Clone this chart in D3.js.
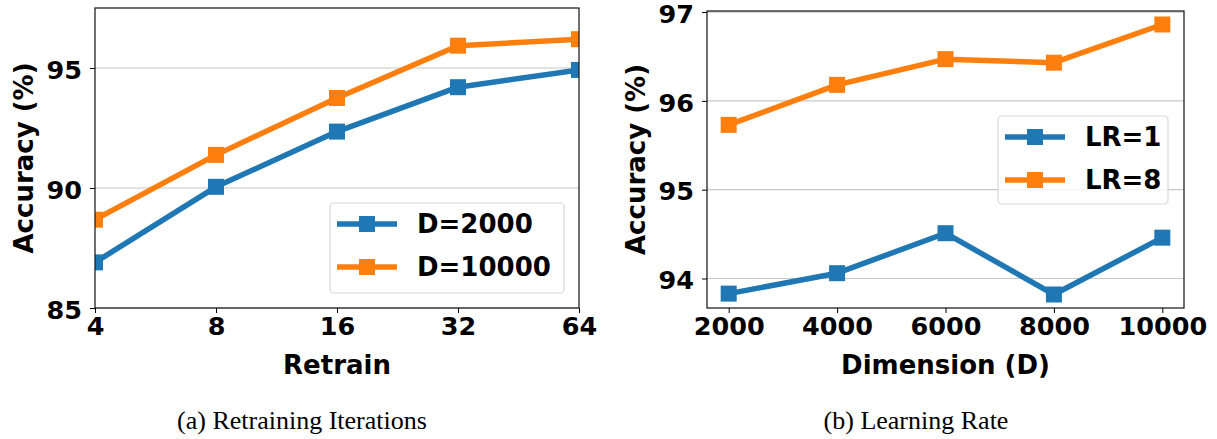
<!DOCTYPE html>
<html>
<head>
<meta charset="utf-8">
<script src="https://cdn.jsdelivr.net/npm/d3@7/dist/d3.min.js"></script>
<style>
  html, body { margin: 0; padding: 0; background: #fff; }
  svg { display: block; }
  .tick text { font-family: "DejaVu Sans", sans-serif; font-weight: bold; font-size: 25.5px; fill: #000; }
  .tick line { stroke: #000; stroke-width: 1; }
  .title { font-family: "DejaVu Sans", sans-serif; font-weight: bold; font-size: 26px; fill: #000; }
  .legend text { font-family: "DejaVu Sans", sans-serif; font-weight: bold; font-size: 26px; fill: #000; }
  .caption { font-family: "Liberation Serif", "Times New Roman", serif; font-size: 26px; fill: #000; }
</style>
</head>
<body>
<svg id="chart" width="1217" height="439"></svg>
<script>
// (a) accuracy vs. number of retraining iterations
const retrainIters = [4, 8, 16, 32, 64];
const accD2000 = [86.9, 90.05, 92.35, 94.2, 94.92];
const accD10000 = [88.68, 91.38, 93.75, 95.93, 96.2];
const retrainYTicks = [85, 90, 95];

// (b) accuracy vs. hypervector dimension for two learning rates
const dimensions = [2000, 4000, 6000, 8000, 10000];
const accLR1 = [93.83, 94.06, 94.51, 93.82, 94.46];
const accLR8 = [95.73, 96.18, 96.47, 96.43, 96.86];
const dimYTicks = [94, 95, 96, 97];

const BLUE = "#1f77b4", ORANGE = "#ff7f0e";
const svg = d3.select("#chart");

function panel(opts) {
  const { id, x, y, xTicks, yTicks, xTickFormat, series, xTitle, legendBox, caption } = opts;
  const [x0, x1] = x.range();
  const [y1, y0] = y.range();
  const g = svg.append("g");

  g.append("clipPath").attr("id", id)
    .append("rect").attr("x", x0).attr("y", y0).attr("width", x1 - x0).attr("height", y1 - y0);

  // horizontal grid
  g.append("g").selectAll("line").data(yTicks).join("line")
    .attr("x1", x0).attr("x2", x1)
    .attr("y1", d => y(d)).attr("y2", d => y(d))
    .attr("stroke", "#c8c8c8").attr("stroke-width", 1.2);

  // series
  const line = d3.line().x(d => x(d[0])).y(d => y(d[1]));
  const plot = g.append("g").attr("clip-path", `url(#${id})`);
  series.forEach(s => {
    const pts = s.xs.map((v, i) => [v, s.ys[i]]);
    plot.append("path").datum(pts).attr("d", line)
      .attr("fill", "none").attr("stroke", s.color).attr("stroke-width", 5.5)
      .attr("stroke-linejoin", "round");
    plot.selectAll(null).data(pts).join("rect")
      .attr("x", d => x(d[0]) - 8).attr("y", d => y(d[1]) - 8)
      .attr("width", 16).attr("height", 16).attr("fill", s.color);
  });

  // frame
  g.append("rect").attr("x", x0).attr("y", y0).attr("width", x1 - x0).attr("height", y1 - y0)
    .attr("fill", "none").attr("stroke", "#222").attr("stroke-width", 1.3);

  // axes
  const ax = g.append("g").attr("transform", `translate(0,${y1})`)
    .call(d3.axisBottom(x).tickValues(xTicks).tickFormat(xTickFormat).tickSize(5).tickPadding(4));
  ax.select(".domain").remove();
  const ay = g.append("g").attr("transform", `translate(${x0},0)`)
    .call(d3.axisLeft(y).tickValues(yTicks).tickFormat(d3.format("d")).tickSize(5).tickPadding(8));
  ay.select(".domain").remove();
  ay.selectAll(".tick text").attr("dy", "0.4em");

  // axis titles
  g.append("text").attr("class", "title").attr("text-anchor", "middle")
    .attr("x", (x0 + x1) / 2).attr("y", 374).text(xTitle);
  g.append("text").attr("class", "title").attr("text-anchor", "middle")
    .attr("transform", `translate(${x0 - 71},${(y0 + y1) / 2}) rotate(-90)`)
    .attr("dy", "0.36em").text("Accuracy (%)");

  // legend
  const lg = g.append("g").attr("class", "legend");
  lg.append("rect").attr("x", legendBox.x).attr("y", legendBox.y)
    .attr("width", legendBox.w).attr("height", legendBox.h).attr("rx", 4)
    .attr("fill", "#fff").attr("fill-opacity", 0.8).attr("stroke", "#d8d8d8").attr("stroke-width", 1.2);
  series.forEach((s, i) => {
    const cy = legendBox.y + 21 + i * 43;
    const lx = legendBox.x + 7;
    lg.append("line").attr("x1", lx).attr("x2", lx + 60).attr("y1", cy).attr("y2", cy)
      .attr("stroke", s.color).attr("stroke-width", 5.5);
    lg.append("rect").attr("x", lx + 22).attr("y", cy - 8).attr("width", 16).attr("height", 16).attr("fill", s.color);
    lg.append("text").attr("x", lx + 80).attr("y", cy).attr("dy", "0.36em").text(s.name);
  });

  svg.append("text").attr("class", "caption").attr("text-anchor", "middle")
    .attr("x", caption.x).attr("y", 429).text(caption.text);
}

panel({
  id: "clipA",
  x: d3.scaleLog().base(2).domain([4, 64]).range([95, 579]),
  y: d3.scaleLinear().domain([85, 97.5]).range([308, 8]),
  xTicks: retrainIters, yTicks: retrainYTicks, xTickFormat: d3.format("d"),
  series: [
    { name: "D=2000", xs: retrainIters, ys: accD2000, color: BLUE },
    { name: "D=10000", xs: retrainIters, ys: accD10000, color: ORANGE }
  ],
  xTitle: "Retrain",
  legendBox: { x: 330, y: 203, w: 234, h: 90 },
  caption: { x: 302, text: "(a) Retraining Iterations" }
});

panel({
  id: "clipB",
  x: d3.scaleLinear().domain([1600, 10400]).range([707, 1184]),
  y: d3.scaleLinear().domain([93.668, 97.012]).range([308, 11]),
  xTicks: dimensions, yTicks: dimYTicks, xTickFormat: d3.format("d"),
  series: [
    { name: "LR=1", xs: dimensions, ys: accLR1, color: BLUE },
    { name: "LR=8", xs: dimensions, ys: accLR8, color: ORANGE }
  ],
  xTitle: "Dimension (D)",
  legendBox: { x: 998, y: 116, w: 170, h: 88 },
  caption: { x: 916, text: "(b) Learning Rate" }
});
</script>
</body>
</html>
